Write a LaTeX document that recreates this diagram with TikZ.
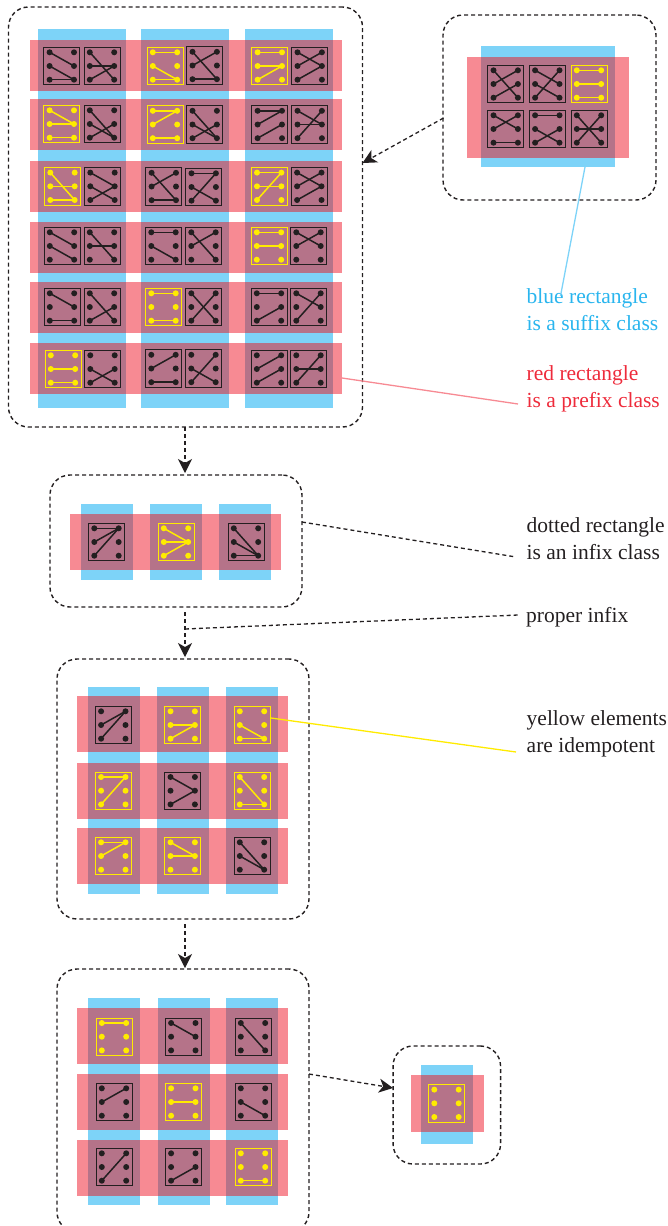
\documentclass[tikz,border=0pt]{standalone}
\usepackage{fontspec}
\setmainfont{Liberation Serif}
\usetikzlibrary{arrows.meta}
\definecolor{pinkbar}{HTML}{F78A93}
\definecolor{bluebar}{HTML}{7DD3F8}
\definecolor{mauve}{HTML}{B57389}
\definecolor{ink}{HTML}{231F20}
\definecolor{idem}{HTML}{FFEB00}
\definecolor{bluetxt}{HTML}{29B5EE}
\definecolor{redtxt}{HTML}{EE2B3B}
\tikzset{
  x=1pt,y=-1pt,
  elbox/.style={draw=#1,line width=0.9pt,fill=none,inner sep=0pt,minimum width=36pt,minimum height=37.4pt},
  eldot/.style={circle,fill=#1,draw=none,inner sep=0pt,minimum size=6pt},
  eledge/.style={draw=#1,line width=1.5pt},
  classbox/.style={draw=ink,line width=1.4pt,dash pattern=on 4pt off 3pt,rounded corners=20pt,inner sep=0pt,fill=none},
  dotline/.style={draw=ink,line width=1.3pt,dash pattern=on 4pt off 3pt},
  bigarrow/.style={dotline,-{Stealth[length=14pt,width=14pt,inset=4pt]}},
  lab/.style={anchor=base west,align=left,inner sep=0pt,font=\fontsize{21.5}{27}\selectfont},
}
% name, x, y, colour, edges as left/right
\newcommand{\el}[5]{%
  \begin{scope}[shift={(#2,#3)}]
    \node[elbox=#4] (#1) at (0,0) {};
    \foreach \i/\yy in {1/-13.7,2/0,3/13.7} {%
      \node[eldot=#4] (#1-l\i) at (-12.2,\yy) {};
      \node[eldot=#4] (#1-r\i) at (12.2,\yy) {};
    }
    \foreach \a/\b in {#5} {\draw[eledge=#4] (#1-l\a.center) -- (#1-r\b.center);}
  \end{scope}}
% columns x1/x2, rows y1/y2, pink x1, pink x2, blue y1, blue y2
\newcommand{\bars}[6]{%
  \foreach \xa/\xb in {#1} {\fill[bluebar] (\xa,#5) rectangle (\xb,#6);}
  \foreach \ya/\yb in {#2} {\fill[pinkbar] (#3,\ya) rectangle (#4,\yb);}
  \foreach \xa/\xb in {#1} {\foreach \ya/\yb in {#2} {\fill[mauve] (\xa,\ya) rectangle (\xb,\yb);}}}
\begin{document}
\begin{tikzpicture}
\path[clip] (0,0) rectangle (667,1226);
% ---- backgrounds
\bars{38/126,141/229,245/333}{40/91,99/150,161/212,222/273,282/333,343/394}{30}{342}{29}{408}
\bars{481/615}{57/158}{467}{629}{46}{167}
\bars{81/133,150/202,219/271}{514/570}{70}{281}{504}{580}
\bars{88/140,157/209,226/278}{696/752,763/819,828/884}{77}{288}{687}{894}
\bars{88/140,158/210,226/278}{1008/1064,1074/1130,1140/1196}{77}{288}{998}{1205}
\bars{421/473}{1075/1132}{411}{484}{1065}{1144}
% ---- class boxes
\node[classbox,minimum width=354pt,minimum height=420pt] (top) at (185.5,217) {};
\node[classbox,minimum width=213pt,minimum height=185pt] (side) at (549.5,107.5) {};
\node[classbox,minimum width=252pt,minimum height=132pt] (row) at (176,541) {};
\node[classbox,minimum width=252pt,minimum height=260pt] (three) at (183,789) {};
\node[classbox,minimum width=252pt,minimum height=263pt] (four) at (183,1100.5) {};
\node[classbox,minimum width=107.5pt,minimum height=118pt] (one) at (446.8,1105) {};
% ---- top group
\el{a11}{61.8}{66}{ink}{1/2,2/3,3/3}
\el{b11}{102}{66}{ink}{1/3,2/2,3/2}
\el{a12}{165}{66}{idem}{1/1,2/3,3/3}
\el{b12}{204.7}{65.5}{ink}{1/3,2/1,3/3}
\el{a13}{269.8}{66}{idem}{1/1,2/2,3/2}
\el{b13}{309.7}{66}{ink}{1/2,2/1,3/2}
\el{a21}{61.8}{124}{idem}{1/2,2/2,3/3}
\el{b21}{102}{124}{ink}{1/3,2/3,3/2}
\el{a22}{165}{124.5}{idem}{1/1,2/1,3/3}
\el{b22}{204.7}{124.5}{ink}{1/3,2/3,3/2}
\el{a23}{269.8}{124.5}{ink}{1/1,2/1,3/2}
\el{b23}{309.7}{124.5}{ink}{1/2,2/2,3/1}
\el{a31}{62.5}{186.3}{idem}{1/3,2/2,3/3}
\el{b31}{102.5}{186.3}{ink}{1/2,2/3,3/2}
\el{a32}{163.8}{186.5}{ink}{1/3,2/1,3/3}
\el{b32}{203.7}{187}{ink}{1/1,2/3,3/1}
\el{a33}{269.2}{186.3}{idem}{1/1,2/2,3/1}
\el{b33}{309.3}{186.3}{ink}{1/2,2/1,3/2}
\el{a41}{62}{246}{ink}{1/2,2/3}
\el{b41}{102}{246}{ink}{1/3,2/2}
\el{a42}{163.5}{246}{ink}{1/1,2/3}
\el{b42}{203.5}{246}{ink}{1/3,2/1}
\el{a43}{269}{246}{idem}{1/1,2/2}
\el{b43}{308.5}{246}{ink}{1/2,2/1}
\el{a51}{62}{307}{ink}{1/2,3/3}
\el{b51}{102}{307}{ink}{1/3,3/2}
\el{a52}{163.5}{307}{idem}{1/1,3/3}
\el{b52}{203.5}{307}{ink}{1/3,3/1}
\el{a53}{269}{307}{ink}{1/1,3/2}
\el{b53}{308.5}{307}{ink}{1/2,3/1}
\el{a61}{63}{369}{idem}{2/2,3/3}
\el{b61}{102.5}{369}{ink}{2/3,3/2}
\el{a62}{163.5}{368.5}{ink}{2/1,3/3}
\el{b62}{203.5}{368.5}{ink}{2/3,3/1}
\el{a63}{269}{369}{ink}{2/1,3/2}
\el{b63}{308.5}{369}{ink}{2/2,3/1}
% ---- side group
\el{s11}{505.7}{84}{ink}{1/3,2/1,3/2}
\el{s12}{547.3}{84}{ink}{1/2,2/3,3/1}
\el{s13}{589}{84}{idem}{1/1,2/2,3/3}
\el{s21}{505.7}{129}{ink}{1/2,2/1,3/3}
\el{s22}{547.3}{129}{ink}{1/1,2/3,3/2}
\el{s23}{589}{129}{ink}{1/3,2/2,3/1}
% ---- infix row
\el{r1}{106.5}{542}{ink}{1/1,2/1,3/1}
\el{r2}{176}{542}{idem}{1/2,2/2,3/2}
\el{r3}{246}{542}{ink}{1/3,2/3,3/3}
% ---- rank-two group
\el{t11}{113.3}{725}{ink}{2/1,3/1}
\el{t12}{182.7}{725}{idem}{2/2,3/2}
\el{t13}{252}{725}{idem}{2/3,3/3}
\el{t21}{113.3}{790.7}{idem}{1/1,3/1}
\el{t22}{182.7}{790.7}{ink}{1/2,3/2}
\el{t23}{252}{790.7}{idem}{1/3,3/3}
\el{t31}{113.3}{856}{idem}{1/1,2/1}
\el{t32}{182.7}{856}{idem}{1/2,2/2}
\el{t33}{252}{856}{ink}{1/3,2/3}
% ---- rank-one group
\el{u11}{114}{1036.7}{idem}{1/1}
\el{u12}{183.3}{1036.7}{ink}{1/2}
\el{u13}{253}{1036.7}{ink}{1/3}
\el{u21}{114}{1102}{ink}{2/1}
\el{u22}{183.3}{1102}{idem}{2/2}
\el{u23}{253}{1102}{ink}{2/3}
\el{u31}{114}{1167}{ink}{3/1}
\el{u32}{183.3}{1167}{ink}{3/2}
\el{u33}{253}{1167}{idem}{3/3}
% ---- rank-zero element
\el{z}{446.5}{1103.3}{idem}{}
% ---- labels
\node[lab,text=bluetxt] (lblue) at (526.5,330) {blue rectangle\\is a suffix class};
\node[lab,text=redtxt] (lred) at (526.5,407) {red rectangle\\is a prefix class};
\node[lab,text=ink] (ldot) at (526.5,559) {dotted rectangle\\is an infix class};
\node[lab,text=ink] (lprop) at (526,622) {proper infix};
\node[lab,text=ink] (lyel) at (526.5,752) {yellow elements\\are idempotent};
% ---- connector end points
\coordinate (p1) at (443.5,118);
\coordinate (p2) at (362.5,163);
\coordinate (p3) at (185,427);
\coordinate (p4) at (185,473);
\coordinate (p5) at (185,612);
\coordinate (p6) at (185,657);
\coordinate (p7) at (185,924);
\coordinate (p8) at (185,968);
\coordinate (p9) at (309,1074);
\coordinate (p10) at (393,1088);
\coordinate (p11) at (302,522);
\coordinate (p12) at (516,557);
\coordinate (p13) at (185,629);
\coordinate (p14) at (518,615);
\coordinate (p15) at (585,167);
\coordinate (p16) at (560.5,296);
\coordinate (p17) at (342,378);
\coordinate (p18) at (518,404);
\coordinate (p19) at (271,718);
\coordinate (p20) at (516,752);
% ---- connectors
\draw[bigarrow] (p1) -- (p2);
\draw[bigarrow] (p3) -- (p4);
\draw[bigarrow] (p5) -- (p6);
\draw[bigarrow] (p7) -- (p8);
\draw[bigarrow] (p9) -- (p10);
\draw[dotline] (p11) -- (p12);
\draw[dotline] (p13) -- (p14);
\draw[bluebar,line width=1.3pt] (p15) -- (p16);
\draw[pinkbar,line width=1.3pt] (p17) -- (p18);
\draw[idem,line width=1.3pt] (p19) -- (p20);
\end{tikzpicture}
\end{document}
